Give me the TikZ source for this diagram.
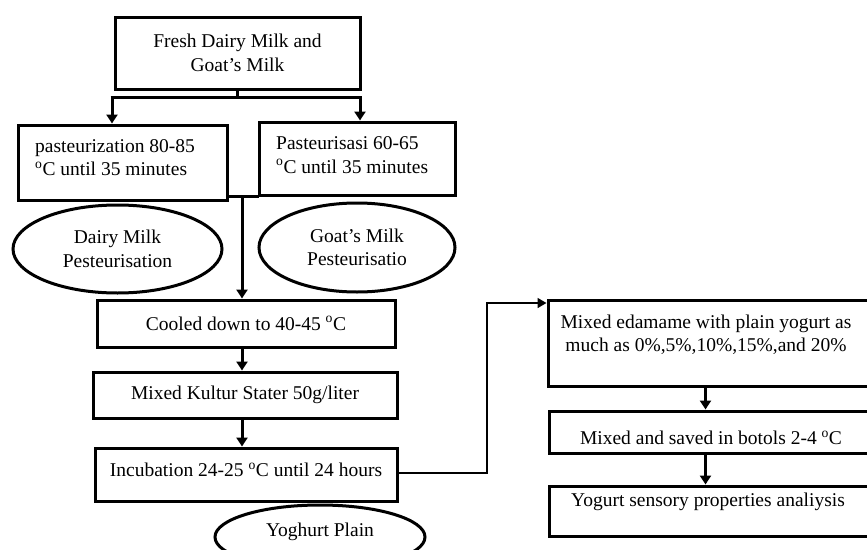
\documentclass[tikz,border=0pt]{standalone}
\usepackage{fontspec}
\setmainfont{Liberation Serif}
\usetikzlibrary{arrows.meta,shapes.geometric}
\begin{document}
\begin{tikzpicture}[x=1pt,y=-1pt,
  every node/.style={font=\fontsize{19.5}{23.4}\selectfont, inner sep=0pt},
  box/.style={draw, line width=3pt, rectangle},
  oval/.style={draw, line width=3pt, ellipse, align=center},
  flow/.style={line width=3pt, -{Triangle[length=9pt,width=11pt]}},
  thinflow/.style={line width=1.6pt, -{Triangle[length=9pt,width=10pt]}},
  plain/.style={line width=3pt}]
\useasboundingbox (0,0) rectangle (867,549);
% top
\node[box, minimum width=245pt, minimum height=72pt, align=center] (top) at (237.5,53) {Fresh Dairy Milk and\\Goat’s Milk};
% left and right pasteurisation boxes
\node[box, minimum width=209pt, minimum height=75pt] (left) at (122.5,162.5) {};
\node[anchor=west, align=left] (lefttxt) at (35,157.5) {pasteurization 80-85\\\textsuperscript{o}C until 35 minutes};
\node[box, minimum width=196pt, minimum height=73pt] (right) at (357,158.5) {};
\node[anchor=west, align=left] (righttxt) at (276,155) {Pasteurisasi 60-65\\\textsuperscript{o}C until 35 minutes};
% ellipses
\node[oval, minimum width=209pt, minimum height=88pt] (dairy) at (117.5,249) {Dairy Milk\\Pesteurisation};
\node[oval, minimum width=196pt, minimum height=89pt] (goat) at (357,247.5) {Goat’s Milk\\Pesteurisatio};
% process column
\node[box, minimum width=298pt, minimum height=47pt] (cool) at (246,323.5) {Cooled down to 40-45 \textsuperscript{o}C};
\node[box, minimum width=304pt, minimum height=46pt] (kultur) at (245,395) {Mixed Kultur Stater 50g/liter};
\node[box, minimum width=302pt, minimum height=53pt] (incub) at (246,474.5) {};
\node (incubtxt) at (246,470) {Incubation 24-25 \textsuperscript{o}C until 24 hours};
\node[oval, minimum width=210pt, minimum height=64pt] (plainy) at (320,537) {};
\node (plaintxt) at (320,532) {Yoghurt Plain};
% right column
\node[box, minimum width=324pt, minimum height=86pt] (edam) at (710,343) {};
\node[align=center] (edamtxt) at (706,335) {Mixed edamame with plain yogurt as\\much as 0\%,5\%,10\%,15\%,and 20\%};
\node[box, minimum width=323pt, minimum height=42pt] (saved) at (710.5,432) {};
\node (savedtxt) at (711,438) {Mixed and saved in botols 2-4 \textsuperscript{o}C};
\node[box, minimum width=323pt, minimum height=50pt] (sens) at (710.5,511) {};
\node (senstxt) at (708,502) {Yogurt sensory properties analiysis};
% connectors
\coordinate (split) at (237.5,97);
\coordinate (splitL) at (112,97);
\coordinate (splitR) at (360,97);
\draw[plain] (top.south) -- (split);
\draw[plain] ([xshift=-1.5pt]splitL) -- ([xshift=1.5pt]splitR);
\draw[flow] (splitL) -- (splitL |- left.north);
\draw[flow] (splitR) -- (splitR |- right.north);
\coordinate (joinL) at (227,196);
\coordinate (joinR) at (259,196);
\coordinate (joinM) at (242,196);
\draw[plain] (joinL) -- (joinR);
\draw[flow] (joinM) -- (joinM |- cool.north);
\coordinate (colx) at (242,0);
\draw[flow] (colx |- cool.south) -- (colx |- kultur.north);
\draw[flow] (colx |- kultur.south) -- (colx |- incub.north);
\coordinate (c1) at (487,473);
\coordinate (c2) at (487,303);
\draw[thinflow] (incub.east |- c1) -- (c1) -- (c2) -- (c2 -| edam.west);
\coordinate (rcolx) at (705.5,0);
\draw[flow] (rcolx |- edam.south) -- (rcolx |- saved.north);
\draw[flow] (rcolx |- saved.south) -- (rcolx |- sens.north);
\end{tikzpicture}
\end{document}
